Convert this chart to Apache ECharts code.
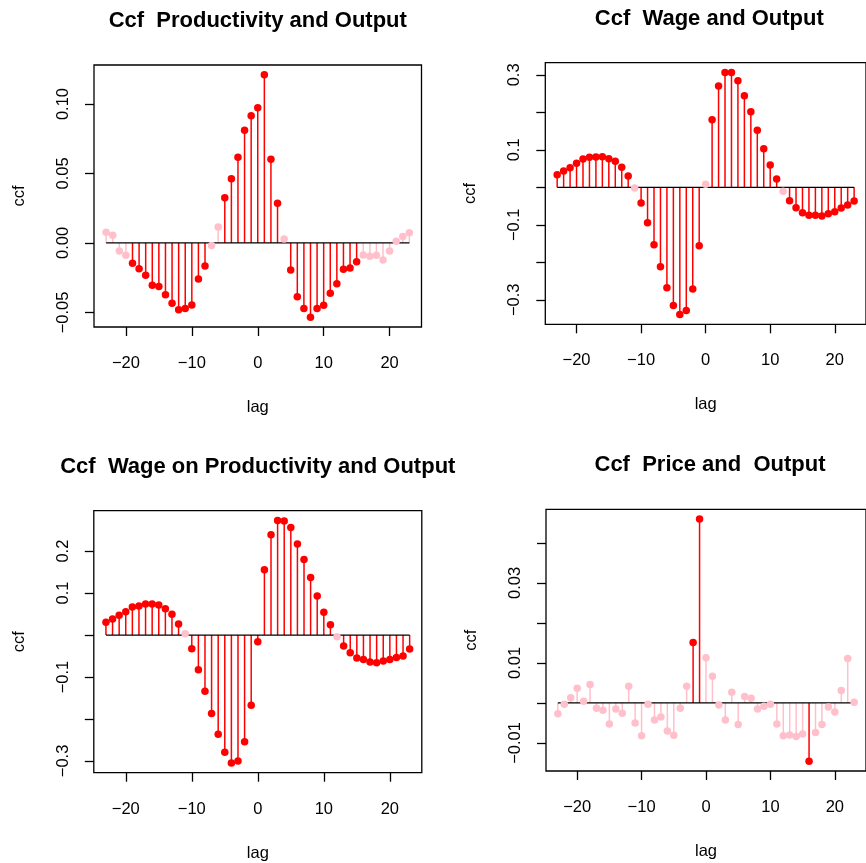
<!DOCTYPE html>
<html><head><meta charset="utf-8">
<script src="https://cdn.jsdelivr.net/npm/echarts@6/dist/echarts.min.js"></script>
<style>html,body{margin:0;padding:0;background:#fff}#c{width:866px;height:863px}</style>
</head><body><div id="c"></div>
<script>
// ---- data ----
const lags = [-23,-22,-21,-20,-19,-18,-17,-16,-15,-14,-13,-12,-11,-10,-9,-8,-7,-6,-5,-4,-3,-2,-1,
  0,1,2,3,4,5,6,7,8,9,10,11,12,13,14,15,16,17,18,19,20,21,22,23];

const prodOutput = [0.0077,0.0055,-0.0058,-0.0089,-0.0146,-0.0185,-0.0233,-0.0305,-0.0314,-0.0372,-0.0434,-0.0480,-0.0472,-0.0446,-0.0259,-0.0165,-0.0019,0.0115,0.0326,0.0463,0.0616,0.0811,0.0916,
  0.0974,
  0.1211,0.0602,0.0285,0.0029,-0.0194,-0.0388,-0.0472,-0.0535,-0.0472,-0.0448,-0.0362,-0.0293,-0.0189,-0.0180,-0.0136,-0.0086,-0.0096,-0.0089,-0.0122,-0.0058,0.0012,0.0046,0.0074];

const wageOutput = [0.0338,0.0436,0.0524,0.0640,0.0756,0.0800,0.0809,0.0818,0.0764,0.0693,0.0533,0.0302,-0.0018,-0.0418,-0.0942,-0.1530,-0.2116,-0.2676,-0.3156,-0.3396,-0.3289,-0.2711,-0.1556,
  0.0080,
  0.1804,0.2702,0.3067,0.3067,0.2844,0.2444,0.2018,0.1520,0.1031,0.0596,0.0222,-0.0107,-0.0356,-0.0542,-0.0676,-0.0747,-0.0747,-0.0764,-0.0702,-0.0649,-0.0551,-0.0471,-0.0364];

const wageProdOutput = [0.0303,0.0382,0.0470,0.0557,0.0669,0.0693,0.0740,0.0740,0.0717,0.0629,0.0494,0.0263,0.0032,-0.0326,-0.0828,-0.1338,-0.1871,-0.2365,-0.2795,-0.3049,-0.3002,-0.2540,-0.1672,
  -0.0159,
  0.1553,0.2389,0.2731,0.2715,0.2564,0.2166,0.1799,0.1369,0.0932,0.0541,0.0247,-0.0040,-0.0263,-0.0422,-0.0549,-0.0581,-0.0645,-0.0661,-0.0621,-0.0581,-0.0533,-0.0502,-0.0334];

const priceOutput = [-0.0027,-0.0003,0.0013,0.0037,0.0004,0.0046,-0.0013,-0.0018,-0.0053,-0.0015,-0.0026,0.0042,-0.0050,-0.0082,-0.0003,-0.0043,-0.0035,-0.0070,-0.0081,-0.0013,0.0042,0.0151,0.0460,
  0.0113,
  0.0067,-0.0005,-0.0043,0.0027,-0.0054,0.0016,0.0012,-0.0015,-0.0008,-0.0003,-0.0053,-0.0082,-0.0080,-0.0084,-0.0078,-0.0146,-0.0074,-0.0054,-0.0010,-0.0023,0.0031,0.0111,0.0002];

const signifLimit = 0.013;

const titles = ['Ccf  Productivity and Output', 'Ccf  Wage and Output',
                'Ccf  Wage on Productivity and Output', 'Ccf  Price and  Output'];
const xTicks = [-20, -10, 0, 10, 20];
const yTicks = [
  [-0.05, 0, 0.05, 0.10],
  [-0.3, -0.2, -0.1, 0, 0.1, 0.2, 0.3],
  [-0.3, -0.2, -0.1, 0, 0.1, 0.2],
  [-0.01, 0, 0.01, 0.02, 0.03, 0.04]
];
const yLabels = [
  [-0.05, 0, 0.05, 0.10],
  [-0.3, -0.1, 0.1, 0.3],
  [-0.3, -0.1, 0.1, 0.2],
  [-0.01, 0.01, 0.03]
];
const yDecimals = [2, 1, 1, 2];
const seriesValues = [prodOutput, wageOutput, wageProdOutput, priceOutput];

// ---- layout ----
const grids = [
  {left: 94,    top: 65,    width: 327.5, height: 262},
  {left: 545.3, top: 62.7,  width: 328,   height: 261.6},
  {left: 93.8,  top: 510.7, width: 328,   height: 262},
  {left: 546,   top: 509.3, width: 328,   height: 261.7}
];
const titleY = [20.7, 19, 466.7, 465];

const FONT = '"Liberation Sans", Arial, Helvetica, sans-serif';
const RED = '#ff0000', PINK = '#ffc0cb';
const fmtNum = d => v => (v < 0 ? '\u2212' : '') + Math.abs(v).toFixed(d);

function padRange(arr) {
  const lo = Math.min(...arr), hi = Math.max(...arr), p = (hi - lo) * 0.04;
  return [lo - p, hi + p];
}

const option = {
  animation: false,
  backgroundColor: '#fff',
  grid: grids.map(g => Object.assign({show: true, borderColor: '#000', borderWidth: 1.3,
                                       backgroundColor: 'transparent'}, g)),
  xAxis: [], yAxis: [], series: [], graphic: []
};

const xr = padRange(lags);
seriesValues.forEach((vals, i) => {
  const yr = padRange(vals);
  option.xAxis.push({
    type: 'value', gridIndex: i, min: xr[0], max: xr[1],
    axisLine: {show: false, onZero: false},
    axisTick: {show: true, customValues: xTicks, length: 9, lineStyle: {color: '#000', width: 1.3}},
    axisLabel: {customValues: xTicks, formatter: fmtNum(0), margin: 28, fontSize: 16.5, color: '#000', fontFamily: FONT},
    splitLine: {show: false},
    name: 'lag', nameLocation: 'middle', nameGap: 72,
    nameTextStyle: {fontSize: 16.5, color: '#000', fontFamily: FONT}
  });
  option.yAxis.push({
    type: 'value', gridIndex: i, min: yr[0], max: yr[1],
    axisLine: {show: false, onZero: false},
    axisTick: {show: true, customValues: yTicks[i], length: 9, lineStyle: {color: '#000', width: 1.3}},
    axisLabel: {customValues: yLabels[i], formatter: fmtNum(yDecimals[i]), rotate: 90, margin: 22,
                fontSize: 16.5, color: '#000', fontFamily: FONT},
    splitLine: {show: false},
    name: 'ccf', nameLocation: 'middle', nameGap: 66,
    nameTextStyle: {fontSize: 16.5, color: '#000', fontFamily: FONT}
  });
  const colored = lags.map((l, k) => ({
    value: [l, vals[k]],
    itemStyle: {color: Math.abs(vals[k]) >= signifLimit ? RED : PINK, opacity: 1}
  }));
  option.series.push({
    type: 'bar', xAxisIndex: i, yAxisIndex: i, barWidth: 1.5, data: colored, silent: true, z: 2
  });
  option.series.push({
    type: 'line', xAxisIndex: i, yAxisIndex: i, data: lags.map(l => [l, 0]),
    showSymbol: false, symbol: 'none', lineStyle: {color: '#000', width: 1.3}, silent: true, z: 3
  });
  option.series.push({
    type: 'scatter', xAxisIndex: i, yAxisIndex: i, data: colored, symbolSize: 7.5,
    itemStyle: {opacity: 1}, silent: true, z: 4
  });
  const g = grids[i];
  option.graphic.push({
    type: 'text', x: g.left + g.width / 2, y: titleY[i],
    style: {text: titles[i], fill: '#000', font: 'bold 22px ' + FONT, textAlign: 'center', textVerticalAlign: 'middle'}
  });
});

const chart = echarts.init(document.getElementById('c'), null, {renderer: 'canvas'});
chart.setOption(option);
</script>
</body></html>
